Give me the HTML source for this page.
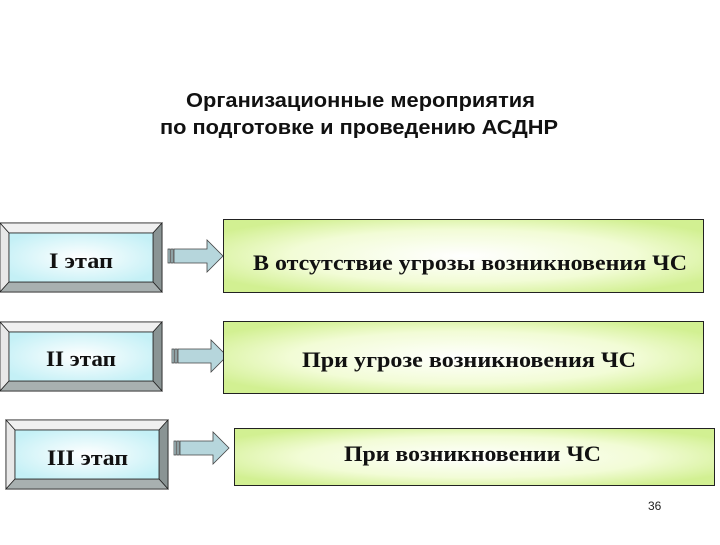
<!DOCTYPE html>
<html><head><meta charset="utf-8"><style>html,body{margin:0;padding:0;background:#fff}</style></head><body>
<svg width="720" height="540" xmlns="http://www.w3.org/2000/svg">
<defs>
<radialGradient id="g" cx="50%" cy="50%" r="60%"><stop offset="0" stop-color="#ffffff"/><stop offset="0.6" stop-color="#f2fcd6"/><stop offset="1" stop-color="#d2f092"/></radialGradient>
<radialGradient id="b" cx="50%" cy="50%" r="60%"><stop offset="0" stop-color="#ffffff"/><stop offset="1" stop-color="#c4f0f6"/></radialGradient>
<g id="bev">
<rect x="0" y="0" width="162" height="69" fill="#fff" stroke="#222" stroke-width="1"/>
<polygon points="0,0 162,0 153,10 9,10" fill="#f0f0f0" stroke="#222" stroke-width="0.8"/>
<polygon points="0,0 9,10 9,59 0,69" fill="#e8e8e8" stroke="#222" stroke-width="0.8"/>
<polygon points="162,0 153,10 153,59 162,69" fill="#8a9494" stroke="#222" stroke-width="0.8"/>
<polygon points="0,69 9,59 153,59 162,69" fill="#a8b0b0" stroke="#222" stroke-width="0.8"/>
<rect x="9" y="10" width="144" height="49" fill="url(#b)" stroke="#222" stroke-width="0.8"/>
</g>
<g id="arr">
<rect x="0" y="9" width="2" height="14" fill="#c0dde2" stroke="#333" stroke-width="0.7"/>
<rect x="3" y="9" width="2" height="14" fill="#c0dde2" stroke="#333" stroke-width="0.7"/>
<polygon points="6,9 39,9 39,0 55,16 39,32 39,23 6,23" fill="#b6d6dc" stroke="#444" stroke-width="0.8"/>
</g>
</defs>
<g font-family="Liberation Sans, sans-serif" font-weight="bold" font-size="20" fill="#111">
<text x="186" y="107" textLength="349" lengthAdjust="spacingAndGlyphs">Организационные мероприятия</text>
<text x="160" y="134" textLength="398" lengthAdjust="spacingAndGlyphs">по подготовке и проведению АСДНР</text>
</g>
<use href="#bev" x="0" y="223"/>
<use href="#bev" x="0" y="322"/>
<use href="#bev" x="6" y="420"/>
<use href="#arr" x="168" y="240"/>
<use href="#arr" x="172" y="340"/>
<use href="#arr" x="174" y="432"/>
<rect x="223.5" y="219.5" width="480" height="73" fill="url(#g)" stroke="#222"/>
<rect x="223.5" y="321.5" width="480" height="72" fill="url(#g)" stroke="#222"/>
<rect x="234.5" y="428.5" width="480" height="57" fill="url(#g)" stroke="#222"/>
<g font-family="Liberation Serif, serif" font-weight="bold" font-size="22" fill="#111">
<text x="49" y="268" textLength="64" lengthAdjust="spacingAndGlyphs">I этап</text>
<text x="46" y="366" textLength="70" lengthAdjust="spacingAndGlyphs">II этап</text>
<text x="47" y="465" textLength="81" lengthAdjust="spacingAndGlyphs">III этап</text>
<text x="253" y="270" textLength="434" lengthAdjust="spacingAndGlyphs">В отсутствие угрозы возникновения ЧС</text>
<text x="302" y="367" textLength="334" lengthAdjust="spacingAndGlyphs">При угрозе возникновения ЧС</text>
<text x="344" y="461" textLength="257" lengthAdjust="spacingAndGlyphs">При возникновении ЧС</text>
</g>
<text x="648" y="510" font-family="Liberation Sans, sans-serif" font-size="12" fill="#222">36</text>
</svg>
</body></html>
